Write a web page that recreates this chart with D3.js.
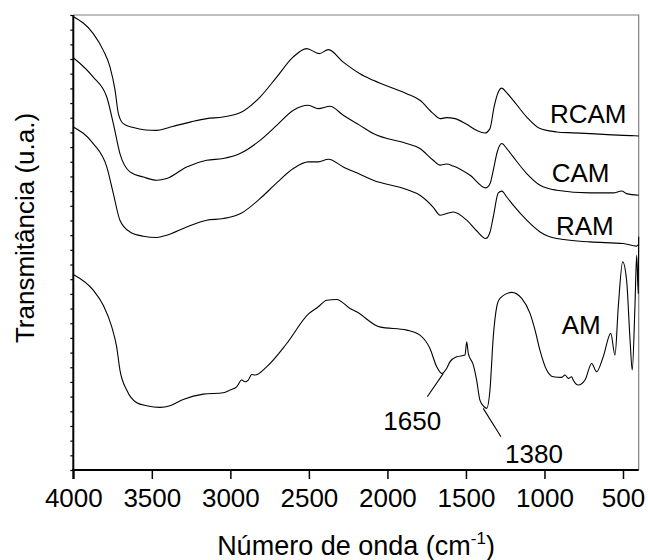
<!DOCTYPE html>
<html><head><meta charset="utf-8">
<script src="https://cdn.jsdelivr.net/npm/d3@7/dist/d3.min.js"></script>
<style>body{margin:0;background:#fff} text{font-family:"Liberation Sans",Arial,sans-serif;fill:#000}</style>
</head><body><svg id="c" width="648" height="560"></svg>
<script>
// ---- data ----
const xTicks=[4000,3500,3000,2500,2000,1500,1000,500];
const xMinorTicks=[3750,3250,2750,2250,1750,1250,750];
const yTicks=d3.range(0,32);

const rcamWn=[4000,3873,3809,3766,3734,3713,3682,3618,3540,3469,3400,3342,3250,3151,3047,2928,2811,2705,2601,2514,2434,2376,2281,2175,2090,1877,1793,1708,1665,1623,1570,1495,1432,1379,1347,1321,1294,1272,1240,1199,1113,1028,922,820,710,600,498,450,400];
const rcamT=[30.90,29.73,28.59,27.45,25.87,24.28,23.60,23.33,23.17,23.14,23.30,23.48,23.72,23.94,24.05,24.39,25.41,26.77,28.13,28.71,28.37,28.64,27.79,27.00,26.55,25.64,25.19,24.28,23.94,24.01,23.94,23.55,23.14,22.96,23.26,24.73,25.75,26.02,25.70,25.19,24.05,23.26,23.03,22.97,22.92,22.85,22.80,22.78,22.76];

const camWn=[4000,3873,3787,3745,3703,3639,3554,3469,3405,3278,3151,3045,2939,2811,2705,2599,2504,2440,2366,2281,2175,2090,1877,1793,1708,1665,1623,1581,1474,1374,1347,1326,1300,1272,1240,1199,1113,1028,922,710,562,508,477,400];
const camT=[28.09,26.77,25.41,23.60,21.56,20.31,19.96,19.74,19.86,20.65,21.10,21.22,21.56,22.46,23.48,24.51,24.85,24.62,24.78,24.17,23.48,22.92,22.24,21.90,21.10,20.77,20.85,20.71,20.08,19.22,19.50,20.42,21.70,22.24,21.90,21.33,20.20,19.40,19.06,18.88,18.88,19.01,18.83,18.72];

const ramWn=[4000,3873,3787,3745,3703,3639,3554,3469,3405,3278,3151,3045,2928,2811,2705,2599,2504,2440,2376,2281,2175,2090,1877,1793,1708,1665,1581,1495,1432,1374,1347,1326,1294,1272,1240,1199,1113,1028,922,710,498,413,400];
const ramT=[23.37,22.24,20.65,18.83,17.02,16.22,15.93,15.84,16.00,16.56,17.02,17.13,17.51,18.49,19.56,20.54,20.99,20.99,21.17,20.65,20.15,19.74,19.11,18.72,17.90,17.36,17.58,17.02,16.30,15.77,16.20,17.24,18.88,19.00,18.60,18.04,17.02,16.22,15.77,15.54,15.43,15.25,15.40];

const amWn=[4000,3873,3809,3755,3724,3703,3660,3596,3533,3448,3384,3300,3172,3045,3002,2960,2928,2907,2886,2864,2843,2769,2641,2504,2440,2387,2323,2238,2196,2050,1877,1793,1729,1686,1654,1623,1602,1559,1506,1495,1485,1453,1432,1411,1385,1368,1347,1326,1304,1283,1209,1145,1092,1060,1029,986,944,890,869,848,827,817,785,742,699,668,626,578,551,530,502,477,455,441,424,413,403,400];
const amT=[13.32,12.25,11.23,9.75,8.39,6.81,5.45,4.58,4.38,4.27,4.38,4.81,5.17,5.26,5.45,5.67,6.13,6.01,6.13,6.51,6.47,7.03,8.62,10.62,11.12,11.57,11.62,11.01,10.78,9.75,9.53,9.19,8.28,7.03,6.58,6.92,7.37,7.71,7.83,8.73,7.94,7.15,6.13,4.76,4.31,4.20,5.45,9.07,11.12,11.69,12.10,11.69,10.67,9.53,8.17,6.81,6.35,6.31,6.47,6.24,6.35,6.13,5.79,6.13,7.26,6.69,7.71,9.31,7.83,11.12,14.18,12.93,8.85,6.81,11.12,14.63,12.03,15.9];

const labelText=["RCAM","CAM","RAM","AM","1650","1380"];
const labelWn=[965,954,927,890,2026,1251];
const labelT=[23.62,19.63,16.0,9.24,2.72,0.46];
const leaderWn=[[1746,1644],[1390,1277]];
const leaderT=[[4.99,6.58],[4.20,2.27]];

// ---- chart ----
const svg=d3.select("#c");
const x=d3.scaleLinear().domain([4000,400]).range([73.3,638.7]);
const y=d3.scaleLinear().domain([0,31]).range([470,15]);

// frame (top/right grey)
svg.append("path").attr("d",`M${x(4000)},${y(31)}H${x(400)}V${y(0)}`)
  .attr("fill","none").attr("stroke","#808080").attr("stroke-width",1.2);

const series=[[rcamWn,rcamT],[camWn,camT],[ramWn,ramT],[amWn,amT]];
const line=d3.line().x(d=>x(d[0])).y(d=>y(d[1])).curve(d3.curveMonotoneX);
series.forEach(([w,t])=>{
  svg.append("path").datum(w.map((v,i)=>[v,t[i]]))
    .attr("d",line).attr("fill","none").attr("stroke","#000").attr("stroke-width",1.1).attr("stroke-linejoin","round");
});

// x axis
const gx=svg.append("g").attr("transform",`translate(0,${y(0)})`);
gx.call(d3.axisBottom(x).tickValues(xMinorTicks).tickSize(5).tickFormat(""));
gx.call(d3.axisBottom(x).tickValues(xTicks).tickSize(9).tickFormat(d3.format("d")));
gx.selectAll("path.domain").remove();
gx.append("line").attr("x1",x(4000)-1).attr("x2",x(400)).attr("stroke","#000").attr("stroke-width",2);
gx.selectAll(".tick line").attr("stroke","#000").attr("stroke-width",1.5);
gx.selectAll(".tick text").attr("y",36.7).attr("dy",0).style("font-size","26px").attr("font-family",null);

// y axis
const gy=svg.append("g").attr("transform",`translate(${x(4000)},0)`);
gy.call(d3.axisLeft(y).tickValues(yTicks).tickSize(3).tickFormat(""));
gy.selectAll("path.domain").remove();
gy.append("line").attr("y1",y(31)).attr("y2",y(0)+9).attr("stroke","#000").attr("stroke-width",2);
gy.selectAll(".tick line").attr("stroke","#000").attr("stroke-width",1.2);

// labels
labelText.forEach((s,i)=>{
  svg.append("text").attr("x",x(labelWn[i])).attr("y",y(labelT[i]))
    .style("font-size","26px").text(s);
});
leaderWn.forEach((w,i)=>{
  svg.append("line").attr("x1",x(w[0])).attr("y1",y(leaderT[i][0]))
    .attr("x2",x(w[1])).attr("y2",y(leaderT[i][1])).attr("stroke","#000").attr("stroke-width",1.1);
});

// axis titles
const xt=svg.append("text").attr("x",(x(4000)+x(400))/2).attr("y",555).attr("text-anchor","middle").style("font-size","27px");
xt.append("tspan").text("Número de onda (cm");
xt.append("tspan").attr("dy",-11).style("font-size","17px").text("-1");
xt.append("tspan").attr("dy",11).text(")");
svg.append("text").attr("transform","translate(34,228) rotate(-90)").attr("text-anchor","middle")
  .style("font-size","26px").text("Transmitância (u.a.)");
</script></body></html>
